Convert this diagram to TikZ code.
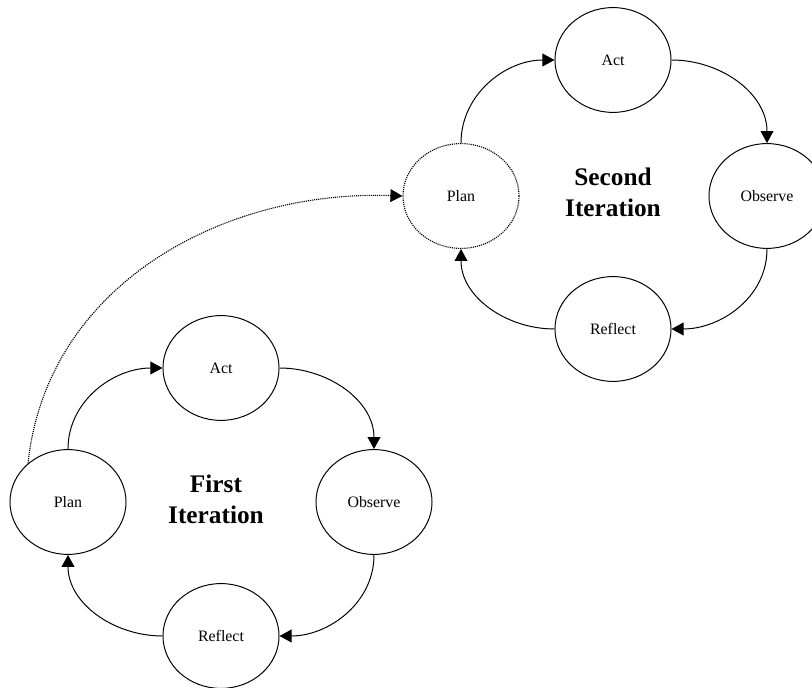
\documentclass[tikz,border=0pt]{standalone}
\usepackage{fontspec}
\setmainfont{Liberation Serif}
\usetikzlibrary{shapes.geometric,arrows.meta}
\tikzstyle{stage}=[ellipse, draw, line width=0.7pt, minimum width=2.9cm, minimum height=2.62cm, inner sep=0pt, font=\fontsize{11.3}{13}\selectfont]
\tikzstyle{nextstage}=[stage, line width=0.8pt, dash pattern=on 0.8pt off 0.7pt]
\tikzstyle{title}=[align=center, font=\fontsize{18}{22}\selectfont\bfseries]
\tikzstyle{cycle}=[line width=0.7pt, -{Triangle[length=0.3cm,width=0.32cm]}]
\newcommand{\stage}{\node[stage]}

\begin{document}
\begin{tikzpicture}[x=0.025cm, y=-0.025cm]
	\useasboundingbox (0,0) rectangle (812,688);
	%% first iteration
	\stage (plan1) at (68,502) {Plan};
	\stage (act1) at (221,368) {Act};
	\stage (obs1) at (374,502) {Observe};
	\stage (ref1) at (221,636) {Reflect};
	\node[title] (title1) at (216,499) {First\\Iteration};
	%% second iteration
	\node[nextstage] (plan2) at (461,196) {Plan};
	\stage (act2) at (613,60) {Act};
	\stage (obs2) at (767,196) {Observe};
	\stage (ref2) at (613,329) {Reflect};
	\node[title] (title2) at (613,192) {Second\\Iteration};
	%% the cycles
	\path[cycle]
		(plan1.north) edge[out=90,in=180] (act1.west)
		(act1.east) edge[out=0,in=90] (obs1.north)
		(obs1.south) edge[out=-90,in=0] (ref1.east)
		(ref1.west) edge[out=180,in=-90] (plan1.south)
		(plan2.north) edge[out=90,in=180] (act2.west)
		(act2.east) edge[out=0,in=90] (obs2.north)
		(obs2.south) edge[out=-90,in=0] (ref2.east)
		(ref2.west) edge[out=180,in=-90] (plan2.south)
		;
	%% on to the next iteration
	\draw[cycle, line width=0.8pt, dash pattern=on 0.8pt off 0.7pt] (plan1.136) to[out=84,in=178] (plan2.west);
\end{tikzpicture}
\end{document}
